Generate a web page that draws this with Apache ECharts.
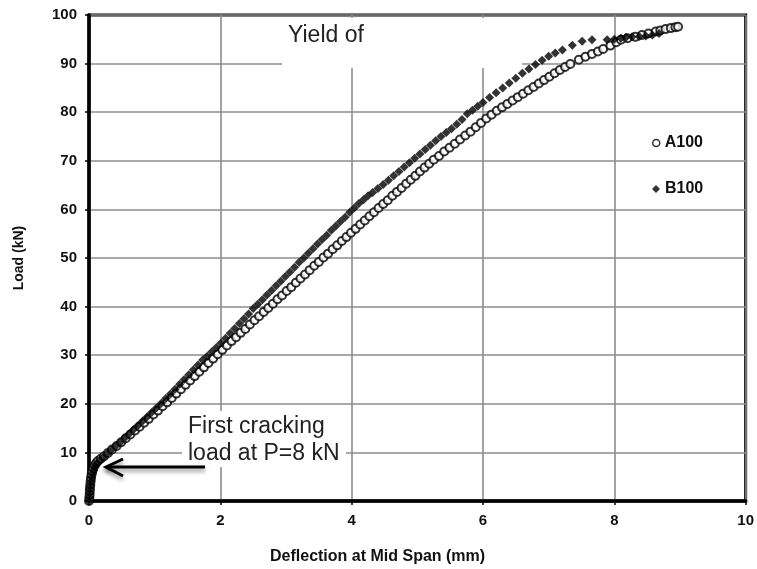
<!DOCTYPE html>
<html>
<head>
<meta charset="utf-8">
<script src="https://cdn.jsdelivr.net/npm/echarts@6/dist/echarts.min.js"></script>
<style>
html,body{margin:0;padding:0;background:#fff;}
#chart{width:757px;height:569px;}
</style>
</head>
<body>
<div id="chart"></div>
<script>
const seriesNames = ['A100', 'B100'];
const xTicks = [0, 2, 4, 6, 8, 10];
const yTicks = [0, 10, 20, 30, 40, 50, 60, 70, 80, 90, 100];

const a100 = [
[0,0],[0.005,0.6],[0.01,1.3],[0.012,2.0],[0.015,2.7],[0.02,3.4],[0.025,4.1],[0.03,4.8],[0.04,5.5],[0.05,6.1],[0.065,6.7],[0.085,7.3],[0.11,7.8],[0.14,8.3],[0.18,8.7],
[0.23,9.2],[0.29,9.9],[0.35,10.6],[0.42,11.3],[0.49,12.1],[0.56,12.9],[0.63,13.7],[0.70,14.5],[0.77,15.3],[0.84,16.1],[0.91,16.9],[0.98,17.8],[1.05,18.6],[1.12,19.5],[1.19,20.3],[1.26,21.2],[1.33,22.1],[1.40,23.0],[1.47,23.9],[1.54,24.8],[1.61,25.7],[1.68,26.6],[1.75,27.5],[1.82,28.4],[1.89,29.3],[1.96,30.2],[2.03,31.1],[2.10,32.0],[2.17,32.9],[2.24,33.7],[2.31,34.6],[2.38,35.4],[2.45,36.3],[2.52,37.2],[2.59,38.0],[2.66,38.9],[2.73,39.7],[2.80,40.6],[2.87,41.5],[2.94,42.3],[3.01,43.2],[3.08,44.0],[3.15,44.9],[3.22,45.8],[3.29,46.6],[3.36,47.5],[3.43,48.4],[3.50,49.2],[3.57,50.1],[3.64,50.9],[3.71,51.8],[3.78,52.6],[3.85,53.5],[3.92,54.3],[3.99,55.2],[4.06,56.0],[4.13,56.9],[4.20,57.7],[4.27,58.6],[4.34,59.4],[4.41,60.3],[4.48,61.1],[4.55,61.9],[4.62,62.8],[4.69,63.6],[4.76,64.4],[4.83,65.3],[4.90,66.1],[4.97,66.9],[5.04,67.8],[5.11,68.6],[5.18,69.4],[5.25,70.2],[5.33,71.0],[5.41,71.9],[5.49,72.7],[5.57,73.5],[5.65,74.4],[5.73,75.2],[5.81,76.0],[5.89,76.9],[5.97,77.8],[6.05,78.7],[6.13,79.5],[6.21,80.3],[6.29,81.0],[6.37,81.7],[6.45,82.4],[6.53,83.1],[6.61,83.8],[6.69,84.5],[6.77,85.2],[6.85,85.9],[6.93,86.6],[7.01,87.3],[7.09,88.0],[7.17,88.7],[7.25,89.3],[7.33,89.9],[7.46,90.8],[7.56,91.4],[7.66,92.0],[7.75,92.5],[7.83,93.0],[7.94,93.7],[8.03,94.4],[8.1,94.9],[8.2,95.2],[8.32,95.5],[8.42,95.9],[8.52,96.2],[8.63,96.6],[8.7,96.8],[8.78,97.1],[8.86,97.3],[8.93,97.5],[8.97,97.6]
];

const b100 = [
[0,0],[0.005,0.8],[0.01,1.6],[0.015,2.4],[0.02,3.2],[0.03,4.0],[0.04,4.8],[0.05,5.6],[0.07,6.4],[0.09,7.1],[0.12,7.7],[0.16,8.3],[0.21,8.9],
[0.27,9.6],[0.33,10.4],[0.40,11.2],[0.47,12.0],[0.54,12.9],[0.61,13.8],[0.68,14.7],[0.75,15.6],[0.82,16.5],[0.89,17.4],[0.96,18.3],[1.03,19.2],[1.10,20.1],[1.17,21.1],[1.24,22.0],[1.31,23.0],[1.38,24.0],[1.45,25.0],[1.52,26.0],[1.59,27.0],[1.66,28.0],[1.73,29.0],[1.80,29.8],[1.87,30.7],[1.94,31.6],[2.01,32.5],[2.08,33.5],[2.15,34.5],[2.22,35.5],[2.29,36.5],[2.36,37.5],[2.43,38.5],[2.50,39.6],[2.57,40.5],[2.64,41.4],[2.71,42.4],[2.78,43.3],[2.85,44.3],[2.92,45.2],[2.99,46.2],[3.06,47.1],[3.13,48.1],[3.20,49.1],[3.27,50.0],[3.34,51.0],[3.41,51.9],[3.48,52.9],[3.55,53.8],[3.62,54.7],[3.69,55.7],[3.76,56.6],[3.83,57.5],[3.90,58.4],[3.97,59.4],[4.04,60.3],[4.11,61.2],[4.18,62.0],[4.25,62.8],[4.32,63.5],[4.40,64.3],[4.48,65.1],[4.56,66.0],[4.64,66.9],[4.72,67.8],[4.80,68.7],[4.88,69.6],[4.96,70.5],[5.04,71.4],[5.12,72.3],[5.20,73.2],[5.28,74.1],[5.36,75.0],[5.44,75.8],[5.52,76.6],[5.60,77.5],[5.68,78.5],[5.76,79.7],[5.84,80.4],[5.92,81.2],[6.0,82.0],[6.1,83.0],[6.2,84.0],[6.3,85.0],[6.4,86.0],[6.5,87.0],[6.6,88.0],[6.7,88.9],[6.8,89.8],[6.9,90.7],[7.0,91.5],[7.1,92.2],[7.21,92.8],[7.36,93.8],[7.51,94.6],[7.66,94.9],[7.89,94.9],[8.0,95.0],[8.1,95.2],[8.18,95.4],[8.27,95.5],[8.38,95.6],[8.48,95.7],[8.58,95.9],[8.68,96.2]
];

const FONT = '"Liberation Sans", Arial, sans-serif';
const chart = echarts.init(document.getElementById('chart'), null, {renderer: 'canvas'});

chart.setOption({
  backgroundColor: '#fff',
  animation: false,
  grid: {
    left: 89, right: 10, top: 15, bottom: 68,
    show: true, borderColor: '#000', borderWidth: 3, backgroundColor: 'transparent'
  },
  legend: [
    {
      data: [{name: seriesNames[0], icon: 'circle'}], left: 647, top: 130, orient: 'vertical',
      itemWidth: 7, itemHeight: 7,
      itemStyle: {color: '#fff', borderColor: '#000', borderWidth: 1.5},
      textStyle: {fontFamily: FONT, fontWeight: 'bold', fontSize: 16, color: '#111'}
    },
    {
      data: [{name: seriesNames[1], icon: 'diamond'}], left: 647, top: 176, orient: 'vertical',
      itemWidth: 8, itemHeight: 8,
      itemStyle: {color: '#000'},
      textStyle: {fontFamily: FONT, fontWeight: 'bold', fontSize: 16, color: '#111'}
    }
  ],
  xAxis: {
    type: 'value', min: xTicks[0], max: xTicks[xTicks.length - 1], interval: 2,
    axisLine: {show: true, onZero: false, lineStyle: {color: '#000', width: 3.5}},
    axisTick: {show: true, length: 4, lineStyle: {color: '#000', width: 1.5}},
    axisLabel: {fontFamily: FONT, fontWeight: 'bold', fontSize: 15, color: '#111', margin: 12},
    splitLine: {show: true, lineStyle: {color: '#8c8c8c', width: 1.6}}
  },
  yAxis: {
    type: 'value', min: yTicks[0], max: yTicks[yTicks.length - 1], interval: 10,
    name: 'Load (kN)', nameLocation: 'middle', nameGap: 63, nameRotate: 90,
    nameTextStyle: {fontFamily: FONT, fontWeight: 'bold', fontSize: 14, color: '#111'},
    axisLine: {show: true, onZero: false, lineStyle: {color: '#000', width: 3.5}},
    axisTick: {show: true, length: 4, lineStyle: {color: '#000', width: 1.5}},
    axisLabel: {fontFamily: FONT, fontWeight: 'bold', fontSize: 15, color: '#111', margin: 12},
    splitLine: {show: true, lineStyle: {color: '#8c8c8c', width: 1.6}}
  },
  graphic: [
    {type: 'rect', z: 1, shape: {x: 282, y: 18, width: 240, height: 50}, style: {fill: '#fff'}},
    {type: 'rect', z: 1, shape: {x: 182, y: 411, width: 164, height: 56}, style: {fill: '#fff'}},
    {type: 'text', z: 10, left: 288, top: 24,
      style: {text: 'Yield of', fontFamily: FONT, fontSize: 23, fill: '#222'}},
    {type: 'text', z: 10, left: 188, top: 413,
      style: {text: 'First cracking\nload at P=8 kN', fontFamily: FONT, fontSize: 23, lineHeight: 27, fill: '#222'}},
    {type: 'polyline', z: 9, shape: {points: [[205, 467], [106, 467]]},
      style: {stroke: '#000', lineWidth: 3, shadowBlur: 4, shadowColor: 'rgba(0,0,0,0.45)', shadowOffsetY: 3}},
    {type: 'polyline', z: 9, shape: {points: [[123, 459], [106, 467], [123, 476]]},
      style: {stroke: '#000', lineWidth: 3, fill: null, shadowBlur: 4, shadowColor: 'rgba(0,0,0,0.45)', shadowOffsetY: 3}},
    {type: 'text', z: 10, left: 270, top: 549,
      style: {text: 'Deflection at Mid Span (mm)', fontFamily: FONT, fontWeight: 'bold', fontSize: 16, fill: '#111'}}
  ],
  series: [
    {
      name: seriesNames[0], type: 'scatter', data: a100, z: 3,
      symbol: 'emptyCircle', symbolSize: 8,
      itemStyle: {color: '#000', borderColor: '#000', borderWidth: 1.8}
    },
    {
      name: seriesNames[1], type: 'scatter', data: b100, z: 4,
      symbol: 'diamond', symbolSize: 9,
      itemStyle: {color: '#000'}
    }
  ]
});
</script>
</body>
</html>
